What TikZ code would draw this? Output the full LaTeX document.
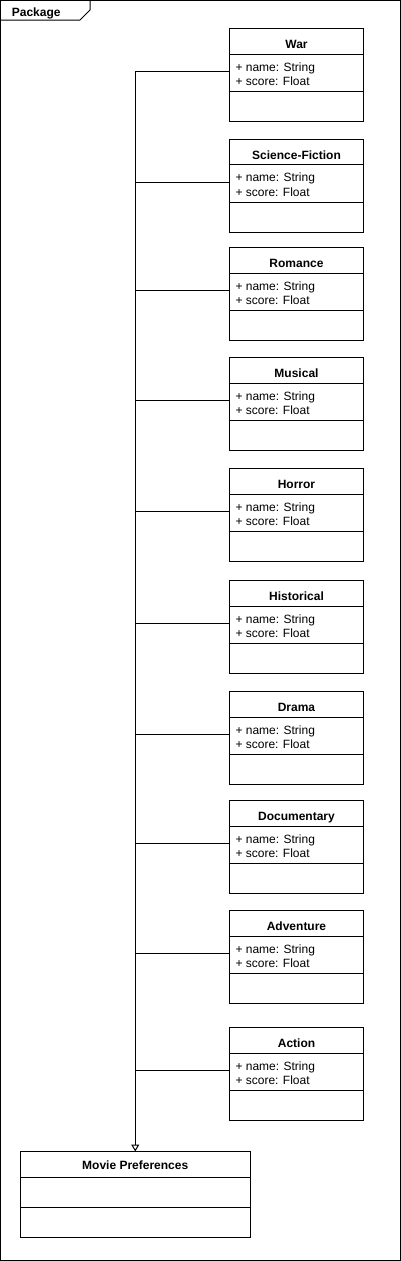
\documentclass[tikz,border=0pt]{standalone}
\usepackage{fontspec}
\setmainfont{Liberation Sans}
\usepackage{tikz}
\usetikzlibrary{shapes.multipart,arrows.meta}
\tikzstyle{umlclass} = [rectangle split, rectangle split parts=3, draw=black, line width=1pt, inner xsep=6pt, inner ysep=0pt, outer sep=0pt, anchor=north west, rectangle split part align={center,left,left}]
\tikzstyle{link} = [line width=1pt]
\tikzstyle{arrow} = [line width=1pt,-{Triangle[open,length=7pt,width=8pt]}]
\newcommand{\ctitle}[1]{\parbox[t][24.8pt][t]{122pt}{\centering\vspace*{11pt}\textbf{#1}}}
\newcommand{\cattrs}{\parbox[t][36.5pt][t]{122pt}{\vspace*{8pt}+ name: String\\+ score: Float}}
\newcommand{\cempty}{\parbox[t][29pt][t]{122pt}{}}

\begin{document}
\begin{tikzpicture}[x=1pt,y=-1pt,font=\fontsize{12}{14.4}\selectfont]
\useasboundingbox (0,0) rectangle (401,1261);
% package frame
\draw[line width=1pt] (0.5,0.5) rectangle (400.5,1260.5);
\draw[line width=1pt] (0.5,20) -- (80,20) -- (90,10) -- (90,0.5);
\node (pkg) [anchor=base west, inner sep=0pt] at (11.7,16.3) {\textbf{Package}};

\node (war) [umlclass] at (229.5,28.5) {\ctitle{War}\nodepart{second}\cattrs\nodepart{third}\cempty};
\node (scifi) [umlclass] at (229.5,139) {\ctitle{Science-Fiction}\nodepart{second}\cattrs\nodepart{third}\cempty};
\node (romance) [umlclass] at (229.5,247.5) {\ctitle{Romance}\nodepart{second}\cattrs\nodepart{third}\cempty};
\node (musical) [umlclass] at (229.5,357.5) {\ctitle{Musical}\nodepart{second}\cattrs\nodepart{third}\cempty};
\node (horror) [umlclass] at (229.5,468.5) {\ctitle{Horror}\nodepart{second}\cattrs\nodepart{third}\cempty};
\node (historical) [umlclass] at (229.5,580.5) {\ctitle{Historical}\nodepart{second}\cattrs\nodepart{third}\cempty};
\node (drama) [umlclass] at (229.5,691.5) {\ctitle{Drama}\nodepart{second}\cattrs\nodepart{third}\cempty};
\node (documentary) [umlclass] at (229.5,800.5) {\ctitle{Documentary}\nodepart{second}\cattrs\nodepart{third}\cempty};
\node (adventure) [umlclass] at (229.5,910.5) {\ctitle{Adventure}\nodepart{second}\cattrs\nodepart{third}\cempty};
\node (action) [umlclass] at (229.5,1027.5) {\ctitle{Action}\nodepart{second}\cattrs\nodepart{third}\cempty};

\node (prefs) [umlclass] at (20.5,1151.5) {\parbox[t][25.1pt][t]{217.5pt}{\centering\vspace*{9pt}\textbf{Movie Preferences}}
\nodepart{second}\parbox[t][29pt][t]{217.5pt}{}
\nodepart{third}\parbox[t][29.2pt][t]{217.5pt}{}};

% generalisation links
\foreach \cls in {war,scifi,romance,musical,horror,historical,drama,documentary,adventure,action}
  \coordinate (\cls-port) at ([yshift=-43.4pt]\cls.north west);
\foreach \cls in {war,scifi,romance,musical,horror,historical,drama,documentary,adventure,action}
  \draw[link] (\cls-port) -- (\cls-port -| prefs.north);
\draw[arrow] (war-port -| prefs.north) -- (prefs.north);
\end{tikzpicture}
\end{document}
